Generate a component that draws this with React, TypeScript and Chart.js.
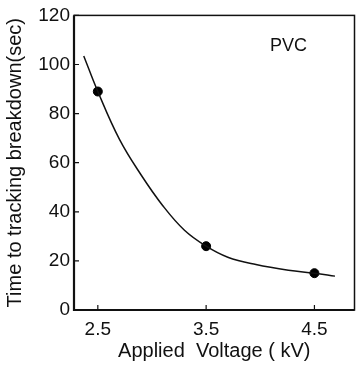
import React, { useEffect, useRef } from "react";
import { Chart, registerables } from "chart.js";

Chart.register(...registerables);

const xTickValues = [2.5, 3.5, 4.5];
const yTickValues = [0, 20, 40, 60, 80, 100, 120];
const measuredVoltage = [2.5, 3.5, 4.5];
const measuredTime = [89, 26, 15];
const curveVoltage = [2.37, 2.5, 2.7, 2.9, 3.1, 3.3, 3.5, 3.7, 3.96, 4.26, 4.5, 4.69];
const curveTime = [103.5, 89, 69.5, 55, 42.5, 32.5, 26, 21.5, 18.5, 16.2, 15, 13.8];
const seriesLabel = "PVC";
const xTitle = "Applied  Voltage ( kV)";
const yTitle = "Time to tracking breakdown(sec)";

const FONT = "'Liberation Sans', Arial, sans-serif";

const framePlugin = {
  id: "frame",
  afterDraw(chart: any) {
    const { ctx, chartArea } = chart;
    const { left, right, top, bottom } = chartArea;
    const xs = chart.scales.x;
    const ys = chart.scales.y;
    ctx.save();
    ctx.strokeStyle = "#111";
    ctx.lineWidth = 1.5;
    ctx.strokeRect(left, top, right - left, bottom - top);
    ctx.lineWidth = 2.2;
    ctx.beginPath();
    ctx.moveTo(left, top);
    ctx.lineTo(left, bottom);
    ctx.lineTo(right, bottom);
    ctx.stroke();
    ctx.lineWidth = 1.2;
    ctx.beginPath();
    yTickValues.forEach((v) => {
      const y = ys.getPixelForValue(v);
      ctx.moveTo(left, y);
      ctx.lineTo(left + 5, y);
    });
    xTickValues.forEach((v) => {
      const x = xs.getPixelForValue(v);
      ctx.moveTo(x, bottom);
      ctx.lineTo(x, bottom - 5);
    });
    ctx.stroke();
    ctx.fillStyle = "#111";
    ctx.font = `18px ${FONT}`;
    ctx.textAlign = "center";
    ctx.textBaseline = "middle";
    ctx.fillText(seriesLabel, right - 66, top + 31);
    ctx.restore();
  },
};

export default function App() {
  const ref = useRef<HTMLCanvasElement>(null);
  useEffect(() => {
    document.body.style.margin = "0";
    const chart = new Chart(ref.current!, {
      type: "scatter",
      data: {
        datasets: [
          {
            type: "line",
            data: curveVoltage.map((x, i) => ({ x, y: curveTime[i] })),
            borderColor: "#111",
            borderWidth: 1.5,
            pointRadius: 0,
            tension: 0.4,
            fill: false,
          } as any,
          {
            type: "scatter",
            data: measuredVoltage.map((x, i) => ({ x, y: measuredTime[i] })),
            backgroundColor: "#000",
            borderColor: "#000",
            pointRadius: 4.5,
          },
        ],
      },
      options: {
        animation: false,
        responsive: false,
        maintainAspectRatio: false,
        layout: { padding: { top: 15, right: 4, left: 0, bottom: 0 } },
        plugins: { legend: { display: false }, tooltip: { enabled: false } },
        scales: {
          x: {
            type: "linear",
            min: 2.28,
            max: 4.87,
            afterBuildTicks: (s: any) => {
              s.ticks = xTickValues.map((v) => ({ value: v }));
            },
            afterFit: (s: any) => {
              s.height = 62;
            },
            grid: { display: false, drawTicks: false },
            border: { display: false },
            ticks: {
              color: "#111",
              font: { family: FONT, size: 19 },
              padding: 8,
              maxRotation: 0,
              callback: (v: any) => String(v),
            },
            title: {
              display: true,
              text: xTitle,
              color: "#111",
              font: { family: FONT, size: 20 },
              padding: { top: 0, bottom: 9 },
            },
          },
          y: {
            type: "linear",
            min: 0,
            max: 120,
            afterBuildTicks: (s: any) => {
              s.ticks = yTickValues.map((v) => ({ value: v }));
            },
            afterFit: (s: any) => {
              s.width = 74;
            },
            grid: { display: false, drawTicks: false },
            border: { display: false },
            ticks: {
              color: "#111",
              font: { family: FONT, size: 19 },
              padding: 4,
            },
            title: {
              display: true,
              text: yTitle,
              color: "#111",
              font: { family: FONT, size: 20 },
              padding: { top: 3, bottom: 0 },
            },
          },
        },
      },
      plugins: [framePlugin],
    });
    return () => chart.destroy();
  }, []);
  return (
    <div style={{ position: "absolute", left: 0, top: 0, width: 360, height: 372, background: "#fff" }}>
      <canvas ref={ref} width={360} height={372} />
    </div>
  );
}
